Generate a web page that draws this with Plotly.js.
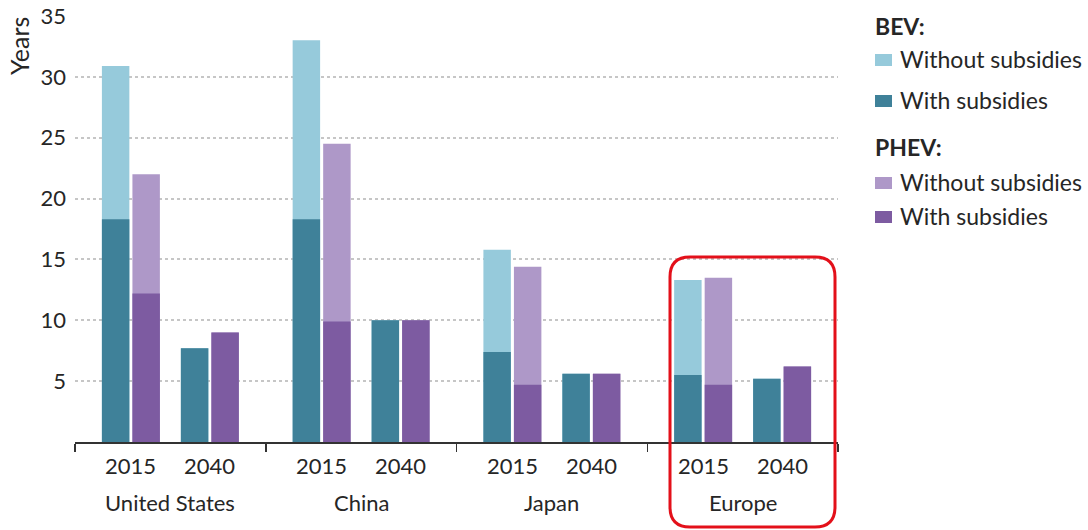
<!DOCTYPE html>
<html>
<head>
<meta charset="utf-8">
<script src="https://cdn.plot.ly/plotly-3.0.1.min.js"></script>
<style>
  html, body { margin: 0; padding: 0; background: #fff; }
  #chart { width: 1088px; height: 530px; }
</style>
</head>
<body>
<div id="chart"></div>
<script>
// Payback period (years) by region and year, for BEV and PHEV, with and without subsidies
const regions = ['United States', 'China', 'Japan', 'Europe'];
const years = ['2015', '2040'];
// values ordered region by region: [2015, 2040]
const bevWithout  = [30.9, 7.7, 33.0, 10.0, 15.8, 5.6, 13.3, 5.2];
const bevWith     = [18.3, 7.7, 18.3, 10.0, 7.4, 5.6, 5.5, 5.2];
const phevWithout = [22.0, 9.0, 24.5, 10.0, 14.4, 5.6, 13.5, 6.2];
const phevWith    = [12.2, 9.0, 9.9, 10.0, 4.7, 5.6, 4.7, 6.2];
const legendLabels = ['Without subsidies', 'With subsidies'];

const COLORS = {
  bevWithout: '#96cadb',
  bevWith: '#3f8199',
  phevWithout: '#ae98c8',
  phevWith: '#7d5ba1'
};
const FONT = 'Lato, "Open Sans", sans-serif';
const TXT = '#262626';
const AXIS_SIZE = 22;
const LEGEND_SIZE = 23;

// plot area in pixels
const W = 1088, H = 530;
const M = { l: 75, r: 250, t: 16, b: 88 };
const PW = W - M.l - M.r, PH = H - M.t - M.b;
const px = x => (x - M.l) / PW;
const py = y => (H - M.b - y) / PH;

// bar placement inside each region (region spans 1 x-unit)
const yearCenter = [0.293, 0.707];
const pairOffset = 0.08;
const barWidth = 0.144;

function positions(side) {
  const xs = [];
  regions.forEach((r, i) => {
    years.forEach((y, j) => {
      xs.push(i + yearCenter[j] + side * pairOffset);
    });
  });
  return xs;
}
const bevX = positions(-1);
const phevX = positions(1);

function barTrace(x, y, color, name) {
  return {
    type: 'bar', x: x, y: y, name: name,
    width: barWidth,
    marker: { color: color, line: { width: 0 } },
    showlegend: false,
    hoverinfo: 'y'
  };
}

const data = [
  barTrace(bevX, bevWithout, COLORS.bevWithout, 'BEV without subsidies'),
  barTrace(phevX, phevWithout, COLORS.phevWithout, 'PHEV without subsidies'),
  barTrace(bevX, bevWith, COLORS.bevWith, 'BEV with subsidies'),
  barTrace(phevX, phevWith, COLORS.phevWith, 'PHEV with subsidies')
];

const annotations = [];
const shapes = [];

// year and region labels under the axis
regions.forEach((r, i) => {
  years.forEach((y, j) => {
    annotations.push({
      xref: 'x', yref: 'paper', x: i + yearCenter[j], y: py(465),
      text: y, showarrow: false, xanchor: 'center', yanchor: 'middle',
      font: { family: FONT, size: AXIS_SIZE, color: TXT }
    });
  });
  annotations.push({
    xref: 'x', yref: 'paper', x: i + 0.5, y: py(502),
    text: r, showarrow: false, xanchor: 'center', yanchor: 'middle',
    font: { family: FONT, size: AXIS_SIZE, color: TXT }
  });
});

// y-axis title
annotations.push({
  xref: 'paper', yref: 'paper', x: px(19), y: py(46),
  text: 'Years', textangle: -90, showarrow: false,
  xanchor: 'center', yanchor: 'middle',
  font: { family: FONT, size: 25, color: TXT }
});

// custom legend
const legendRows = [
  { head: 'BEV:', y: 26 },
  { label: legendLabels[0], color: COLORS.bevWithout, y: 59 },
  { label: legendLabels[1], color: COLORS.bevWith, y: 100 },
  { head: 'PHEV:', y: 147 },
  { label: legendLabels[0], color: COLORS.phevWithout, y: 182 },
  { label: legendLabels[1], color: COLORS.phevWith, y: 216 }
];
legendRows.forEach(row => {
  if (row.head) {
    annotations.push({
      xref: 'paper', yref: 'paper', x: px(873), y: py(row.y),
      text: '<b>' + row.head + '</b>', showarrow: false,
      xanchor: 'left', yanchor: 'middle',
      font: { family: FONT, size: LEGEND_SIZE, color: TXT }
    });
  } else {
    shapes.push({
      type: 'rect', xref: 'paper', yref: 'paper',
      x0: px(875), x1: px(892), y0: py(row.y - 5), y1: py(row.y + 12 - 5),
      fillcolor: row.color, line: { width: 0 }
    });
    annotations.push({
      xref: 'paper', yref: 'paper', x: px(898), y: py(row.y),
      text: row.label, showarrow: false,
      xanchor: 'left', yanchor: 'middle',
      font: { family: FONT, size: LEGEND_SIZE, color: TXT }
    });
  }
});

// rounded highlight box around the last region
(function () {
  const x0 = 670, x1 = 835, y0 = 257, y1 = 527, r = 20;
  const X = v => px(v).toFixed(5), Y = v => py(v).toFixed(5);
  const path = [
    'M', X(x0 + r), Y(y0),
    'L', X(x1 - r), Y(y0),
    'Q', X(x1), Y(y0), X(x1), Y(y0 + r),
    'L', X(x1), Y(y1 - r),
    'Q', X(x1), Y(y1), X(x1 - r), Y(y1),
    'L', X(x0 + r), Y(y1),
    'Q', X(x0), Y(y1), X(x0), Y(y1 - r),
    'L', X(x0), Y(y0 + r),
    'Q', X(x0), Y(y0), X(x0 + r), Y(y0),
    'Z'
  ].join(' ');
  shapes.push({
    type: 'path', xref: 'paper', yref: 'paper', path: path,
    line: { color: '#e3101a', width: 3 }, fillcolor: 'rgba(0,0,0,0)'
  });
})();

const layout = {
  width: W, height: H,
  margin: M,
  paper_bgcolor: '#ffffff',
  plot_bgcolor: '#ffffff',
  barmode: 'overlay',
  font: { family: FONT, size: AXIS_SIZE, color: TXT },
  xaxis: {
    range: [0, regions.length],
    tickvals: regions.map((r, i) => i).concat([regions.length]),
    showticklabels: false,
    ticks: 'outside', ticklen: 8, tickwidth: 1.5, tickcolor: '#333',
    showline: true, linecolor: '#333', linewidth: 1.5,
    showgrid: false, zeroline: false, fixedrange: true
  },
  yaxis: {
    range: [0, 35],
    tickvals: [5, 10, 15, 20, 25, 30, 35],
    ticks: '', showline: false, zeroline: false,
    showgrid: true, gridcolor: '#c6c6c6', gridwidth: 2, griddash: 'dot',
    tickfont: { family: FONT, size: AXIS_SIZE, color: TXT },
    ticklabelstandoff: 8,
    fixedrange: true
  },
  annotations: annotations,
  shapes: shapes,
  showlegend: false
};

Plotly.newPlot('chart', data, layout, { displayModeBar: false, staticPlot: true });
</script>
</body>
</html>
